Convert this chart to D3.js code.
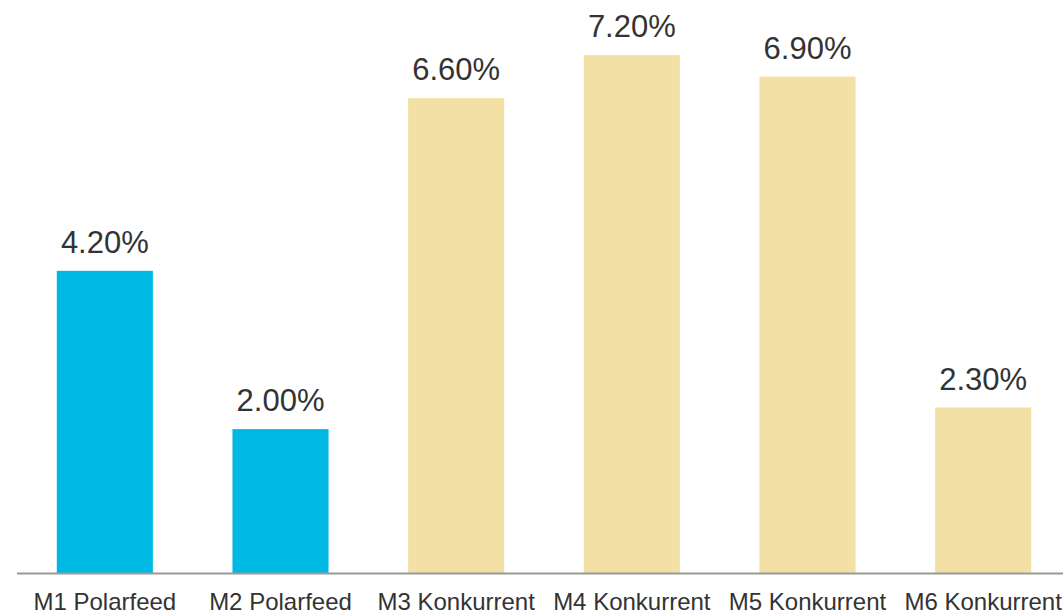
<!DOCTYPE html>
<html>
<head>
<meta charset="utf-8">
<script src="https://cdn.jsdelivr.net/npm/d3@7"></script>
<style>
  body { margin: 0; background: #fff; }
  svg { display: block; font-family: "Liberation Sans", Arial, sans-serif; }
</style>
</head>
<body>
<svg id="chart" width="1063" height="615"></svg>
<script>
// data
var categories = ["M1 Polarfeed", "M2 Polarfeed", "M3 Konkurrent", "M4 Konkurrent", "M5 Konkurrent", "M6 Konkurrent"];
var values = [4.2, 2.0, 6.6, 7.2, 6.9, 2.3];
var groups = ["own", "own", "rival", "rival", "rival", "rival"];

var colors = { own: "#00B9E3", rival: "#F3E0A5" };

var svg = d3.select("#chart");
var baseY = 573;

var x = d3.scaleBand()
    .domain(categories)
    .range([17, 1071])
    .paddingInner(0.453)
    .paddingOuter(0.2265);

var y = d3.scaleLinear()
    .domain([0, 7.2])
    .range([baseY, 55]);

var data = categories.map(function(c, i) {
  return { cat: c, val: values[i], grp: groups[i] };
});

svg.selectAll("rect.bar")
    .data(data)
  .enter().append("rect")
    .attr("class", "bar")
    .attr("x", function(d) { return x(d.cat); })
    .attr("y", function(d) { return y(d.val); })
    .attr("width", x.bandwidth())
    .attr("height", function(d) { return baseY - y(d.val); })
    .style("fill", function(d) { return colors[d.grp]; });

svg.selectAll("text.val")
    .data(data)
  .enter().append("text")
    .attr("class", "val")
    .attr("x", function(d) { return x(d.cat) + x.bandwidth() / 2; })
    .attr("y", function(d) { return y(d.val) - 18; })
    .attr("text-anchor", "middle")
    .style("font-size", "31px")
    .style("fill", "#333")
    .text(function(d) { return d.val.toFixed(2) + "%"; });

// x axis
var axis = svg.append("g")
    .attr("transform", "translate(0," + baseY + ")")
    .call(d3.axisBottom(x).tickSize(0).tickPadding(0));

axis.select(".domain")
    .attr("d", "M17,0.5H1063")
    .style("stroke", "#999")
    .style("stroke-width", "2px");

axis.selectAll(".tick text")
    .attr("y", 37)
    .attr("dy", null)
    .style("font-size", "24px")
    .style("font-family", "Liberation Sans, Arial, sans-serif")
    .style("fill", "#333");
</script>
</body>
</html>
